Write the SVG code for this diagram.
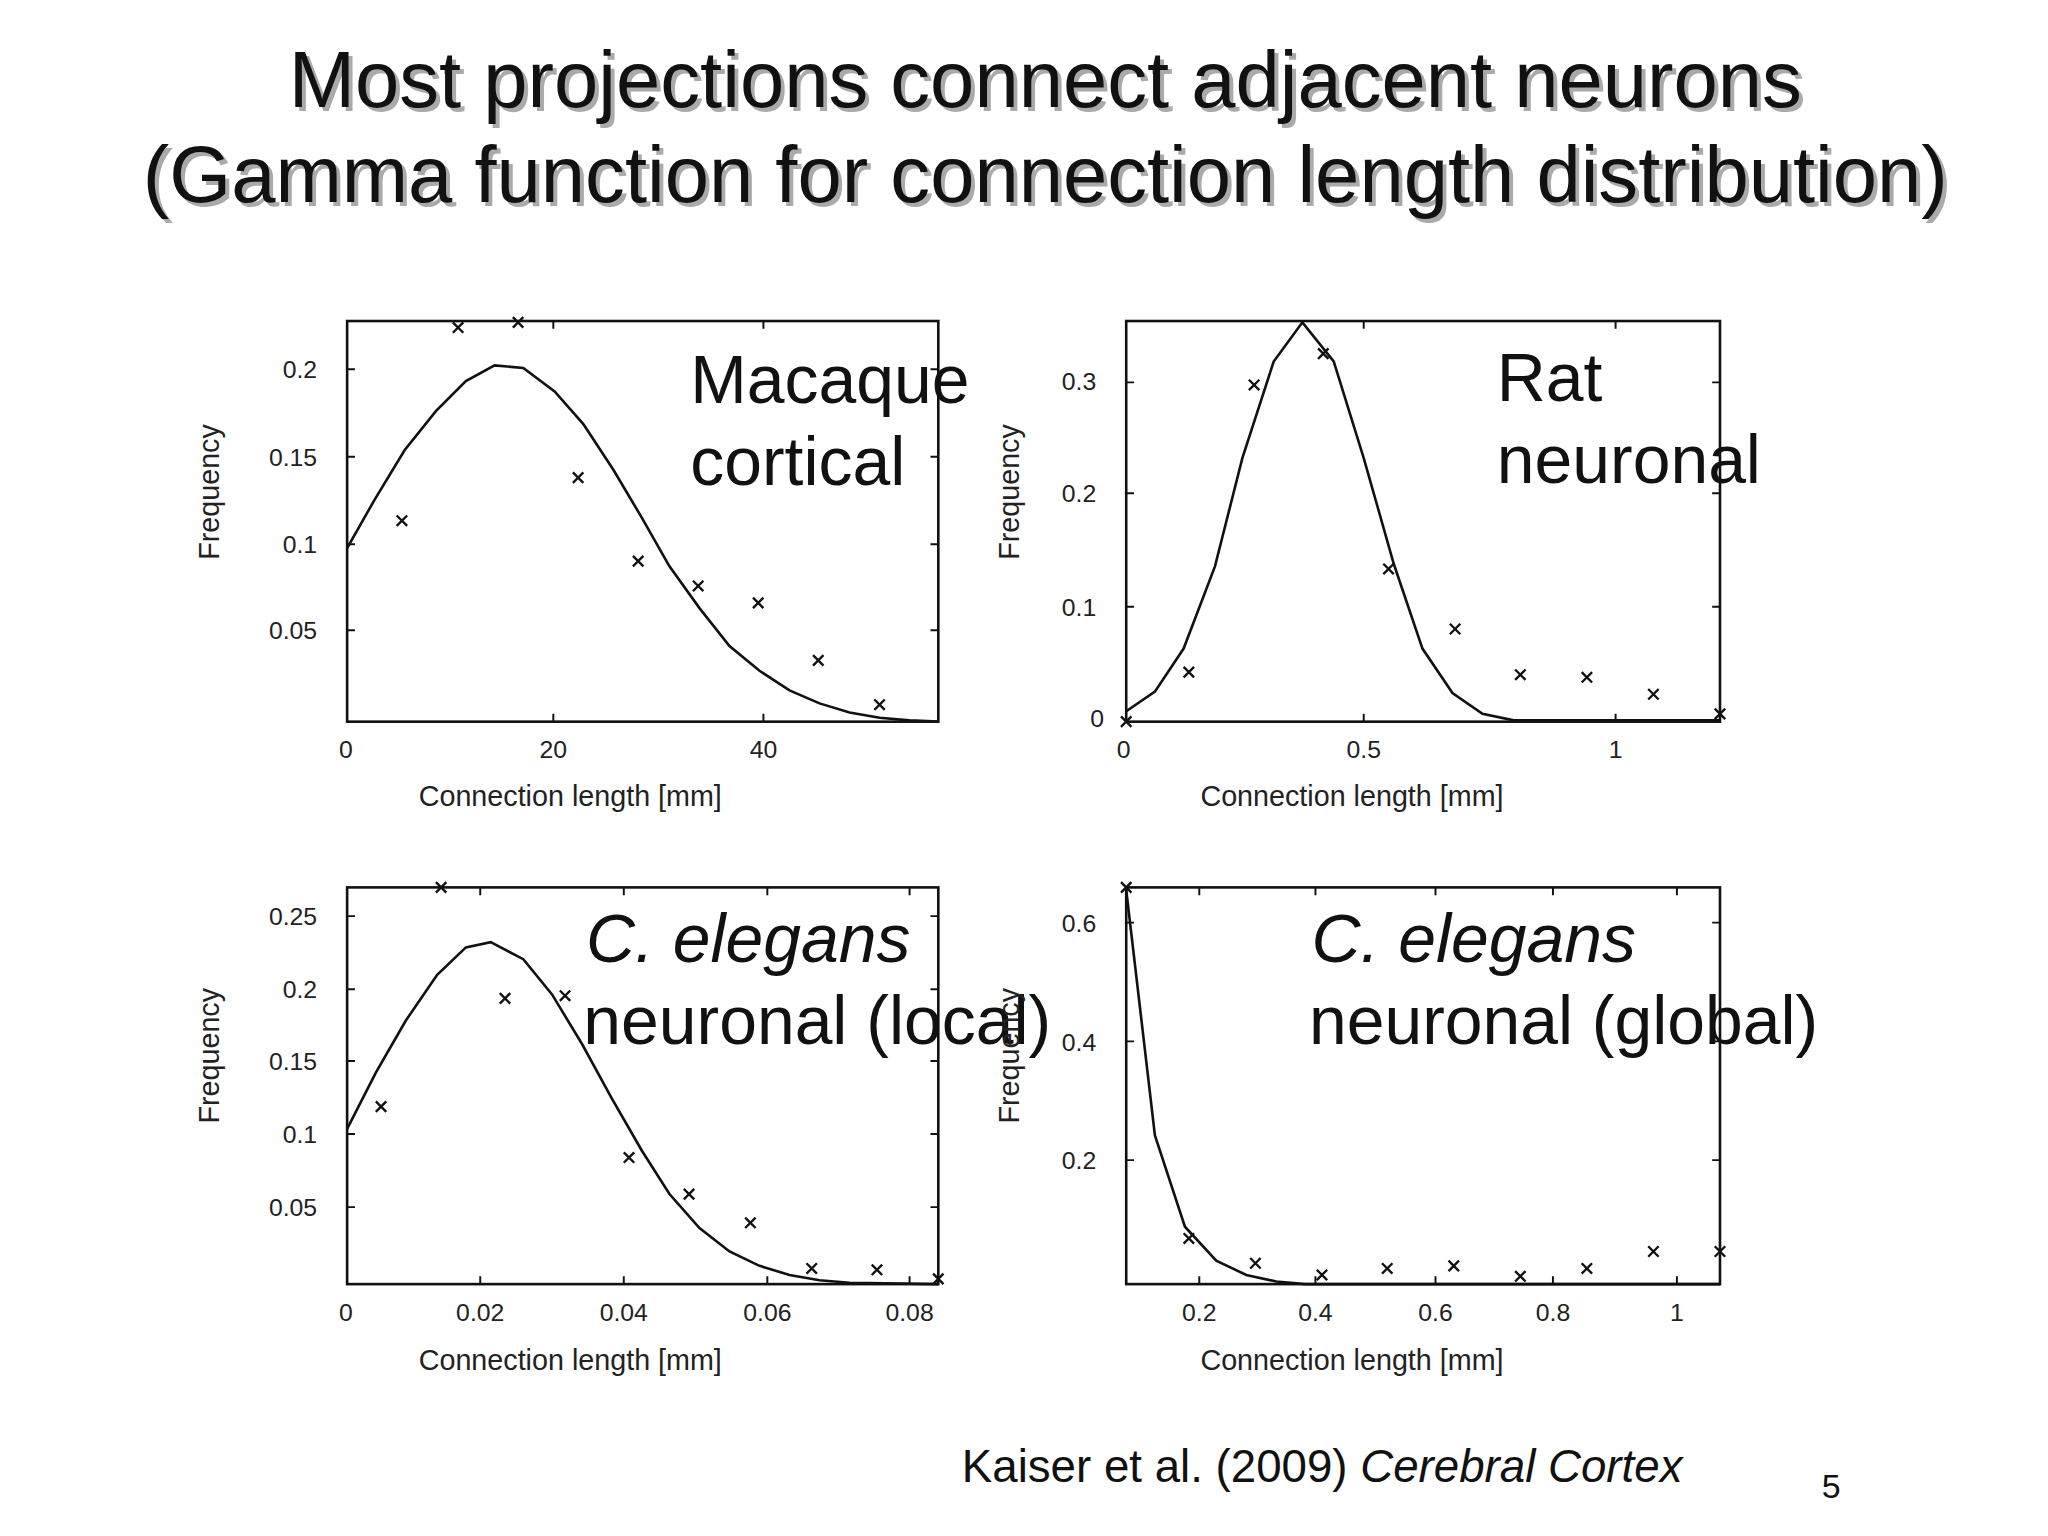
<svg xmlns="http://www.w3.org/2000/svg" width="2048" height="1536" viewBox="0 0 2048 1536">
<style>
.t{font-family:"Liberation Sans",Arial,sans-serif;fill:#111}
.ax{font-family:"Liberation Sans",Arial,sans-serif;font-size:19px;fill:#222}
.al{font-size:22px}
.lab{font-family:"Liberation Sans",Arial,sans-serif;font-size:52px;fill:#111}
.box{fill:none;stroke:#111;stroke-width:2}
.cv{fill:none;stroke:#111;stroke-width:2}
.tk{stroke:#111;stroke-width:1.5}
</style>
<defs>
<g id="x"><path d="M-4,-4L4,4M-4,4L4,-4" stroke="#111" stroke-width="1.8"/></g>
</defs>
<rect width="2048" height="1536" fill="#fff"/>
<g transform="scale(1.305)">
<g id="title" class="t" font-size="61" text-anchor="middle">
<text x="804" y="85" style="fill:#aaa">Most projections connect adjacent neurons</text>
<text x="804" y="158" style="fill:#aaa">(Gamma function for connection length distribution)</text>
<text x="801" y="82">Most projections connect adjacent neurons</text>
<text x="801" y="155">(Gamma function for connection length distribution)</text>
</g>

<g id="plot1">
<rect class="box" x="266" y="246" width="453" height="307"/>
<path class="tk" d="M424,553v-6M585,553v-6M424,246v6M585,246v6M266,283h6M266,350h6M266,417h6M266,483h6M719,283h-6M719,350h-6M719,417h-6M719,483h-6"/>
<polyline class="cv" points="266,420 287,383 310,345 334,315 357,292 379,280 401,282 425,300 447,325 470,360 492,397 513,434 536,466 559,495 582,514 605,529 628,539 651,546 674,550 697,552 719,553"/>
<g><use href="#x" x="308" y="399"/><use href="#x" x="351" y="251"/><use href="#x" x="397" y="247"/><use href="#x" x="443" y="366"/><use href="#x" x="489" y="430"/><use href="#x" x="535" y="449"/><use href="#x" x="581" y="462"/><use href="#x" x="627" y="506"/><use href="#x" x="674" y="540"/></g>
<g class="ax" text-anchor="end"><text x="243" y="290">0.2</text><text x="243" y="357">0.15</text><text x="243" y="424">0.1</text><text x="243" y="490">0.05</text></g>
<g class="ax" text-anchor="middle"><text x="265" y="581">0</text><text x="424" y="581">20</text><text x="585" y="581">40</text><text class="al" x="437" y="618">Connection length [mm]</text></g>
<text class="ax al" transform="translate(168,377) rotate(-90)" text-anchor="middle">Frequency</text>
<text class="lab" x="529" y="309">Macaque</text><text class="lab" x="529" y="372">cortical</text>
</g>

<g id="plot2">
<rect class="box" x="863" y="246" width="455" height="307"/>
<path class="tk" d="M1045,553v-6M1238,553v-6M1045,246v6M1238,246v6M863,465h6M863,378h6M863,293h6M1318,465h-6M1318,378h-6M1318,293h-6"/>
<polyline class="cv" points="863,545 885,530 907,497 931,434 952,351 976,277 998,247 1022,277 1045,351 1068,432 1090,497 1113,531 1136,547 1160,552 1318,552"/>
<g><use href="#x" x="863" y="553"/><use href="#x" x="911" y="515"/><use href="#x" x="961" y="295"/><use href="#x" x="1014" y="271"/><use href="#x" x="1064" y="436"/><use href="#x" x="1115" y="482"/><use href="#x" x="1165" y="517"/><use href="#x" x="1216" y="519"/><use href="#x" x="1267" y="532"/><use href="#x" x="1318" y="547"/></g>
<g class="ax" text-anchor="end"><text x="846" y="557">0</text><text x="840" y="472">0.1</text><text x="840" y="385">0.2</text><text x="840" y="299">0.3</text></g>
<g class="ax" text-anchor="middle"><text x="861" y="581">0</text><text x="1045" y="581">0.5</text><text x="1238" y="581">1</text><text class="al" x="1036" y="618">Connection length [mm]</text></g>
<text class="ax al" transform="translate(781,377) rotate(-90)" text-anchor="middle">Frequency</text>
<text class="lab" x="1147" y="307">Rat</text><text class="lab" x="1147" y="370">neuronal</text>
</g>

<g id="plot3">
<rect class="box" x="266" y="680" width="453" height="304"/>
<path class="tk" d="M368,984v-6M478,984v-6M588,984v-6M697,984v-6M368,680v6M478,680v6M588,680v6M697,680v6M266,702h6M266,758h6M266,813h6M266,869h6M266,925h6M719,702h-6M719,758h-6M719,813h-6M719,869h-6M719,925h-6"/>
<polyline class="cv" points="266,865 288,822 311,782 335,747 357,726 376,722 401,735 423,762 446,800 469,842 492,882 513,915 536,941 559,959 582,970 605,977 628,981 651,983 719,984"/>
<g><use href="#x" x="292" y="848"/><use href="#x" x="338" y="680"/><use href="#x" x="387" y="765"/><use href="#x" x="433" y="763"/><use href="#x" x="482" y="887"/><use href="#x" x="528" y="915"/><use href="#x" x="575" y="937"/><use href="#x" x="622" y="972"/><use href="#x" x="672" y="973"/><use href="#x" x="719" y="980"/></g>
<g class="ax" text-anchor="end"><text x="243" y="709">0.25</text><text x="243" y="765">0.2</text><text x="243" y="820">0.15</text><text x="243" y="876">0.1</text><text x="243" y="932">0.05</text></g>
<g class="ax" text-anchor="middle"><text x="265" y="1012">0</text><text x="368" y="1012">0.02</text><text x="478" y="1012">0.04</text><text x="588" y="1012">0.06</text><text x="697" y="1012">0.08</text><text class="al" x="437" y="1050">Connection length [mm]</text></g>
<text class="ax al" transform="translate(168,809) rotate(-90)" text-anchor="middle">Frequency</text>
<text class="lab" x="449" y="737" font-style="italic">C. elegans</text><text class="lab" x="447" y="800">neuronal  (local)</text>
</g>

<g id="plot4">
<rect class="box" x="863" y="680" width="455" height="304"/>
<path class="tk" d="M919,984v-6M1008,984v-6M1100,984v-6M1190,984v-6M1285,984v-6M919,680v6M1008,680v6M1100,680v6M1190,680v6M1285,680v6M863,707h6M863,798h6M863,889h6M1318,707h-6M1318,798h-6M1318,889h-6"/>
<polyline class="cv" points="863,682 885,870 908,940 932,966 955,977 978,982 1000,984 1318,984"/>
<g><use href="#x" x="863" y="680"/><use href="#x" x="911" y="949"/><use href="#x" x="962" y="968"/><use href="#x" x="1013" y="977"/><use href="#x" x="1063" y="972"/><use href="#x" x="1114" y="970"/><use href="#x" x="1165" y="978"/><use href="#x" x="1216" y="972"/><use href="#x" x="1267" y="959"/><use href="#x" x="1318" y="959"/></g>
<g class="ax" text-anchor="end"><text x="840" y="714">0.6</text><text x="840" y="805">0.4</text><text x="840" y="896">0.2</text></g>
<g class="ax" text-anchor="middle"><text x="919" y="1012">0.2</text><text x="1008" y="1012">0.4</text><text x="1100" y="1012">0.6</text><text x="1190" y="1012">0.8</text><text x="1285" y="1012">1</text><text class="al" x="1036" y="1050">Connection length [mm]</text></g>
<text class="ax al" transform="translate(781,809) rotate(-90)" text-anchor="middle">Frequency</text>
<text class="lab" x="1005" y="737" font-style="italic">C. elegans</text><text class="lab" x="1003" y="800">neuronal  (global)</text>
</g>

<g id="footer" class="t" font-size="35">
<text x="737" y="1136">Kaiser et al. (2009) <tspan font-style="italic">Cerebral Cortex</tspan></text>
<text x="1396" y="1148" font-size="26">5</text>
</g>
</g>
</svg>
